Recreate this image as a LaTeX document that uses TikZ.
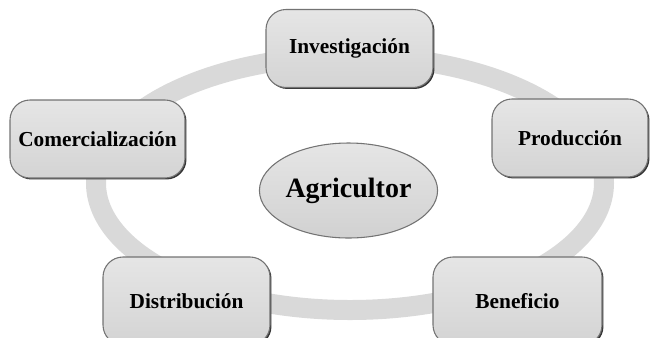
\documentclass[tikz,border=0pt]{standalone}
\usepackage{fontspec}
\setmainfont{Liberation Serif}
\usetikzlibrary{shadows,shapes.geometric}
\begin{document}
\begin{tikzpicture}[x=0.75pt,y=-0.75pt,
  boxst/.style={rectangle, rounded corners=15pt, draw=black!55, line width=0.8pt,
    top color=black!10, bottom color=black!17,
    drop shadow={shadow xshift=1.1pt, shadow yshift=-1.1pt, fill=black!80, opacity=1},
    font=\bfseries\fontsize{16}{19}\selectfont, inner sep=0pt,
    minimum height=78*0.75pt},
  hubst/.style={ellipse, draw=black!55, line width=0.8pt,
    top color=black!10, bottom color=black!18, inner sep=0pt,
    minimum width=167*0.75pt, minimum height=95*0.75pt,
    font=\bfseries\fontsize{21}{25}\selectfont},
  ringst/.style={draw=black!15, line width=15pt}]
\useasboundingbox (0,0) rectangle (650,337);
\clip (0,0) rectangle (650,337);
\coordinate (rc) at (350,183);
\draw[ringst] (rc) ellipse [x radius=254*0.75pt, y radius=127*0.75pt];
\node[hubst] (agr) at (348.5,190.5) {Agricultor};
\node[boxst, minimum width=167*0.75pt] (inv) at (349.5,48.5) {Investigación};
\node[boxst, minimum width=175*0.75pt] (com) at (97.5,139) {Comercialización};
\node[boxst, minimum width=156*0.75pt] (pro) at (570,138) {Producción};
\node[boxst, minimum width=167*0.75pt, minimum height=88*0.75pt] (dis) at (186.5,301) {Distribución};
\node[boxst, minimum width=169*0.75pt, minimum height=88*0.75pt] (ben) at (517.5,301) {Beneficio};
\end{tikzpicture}
\end{document}
